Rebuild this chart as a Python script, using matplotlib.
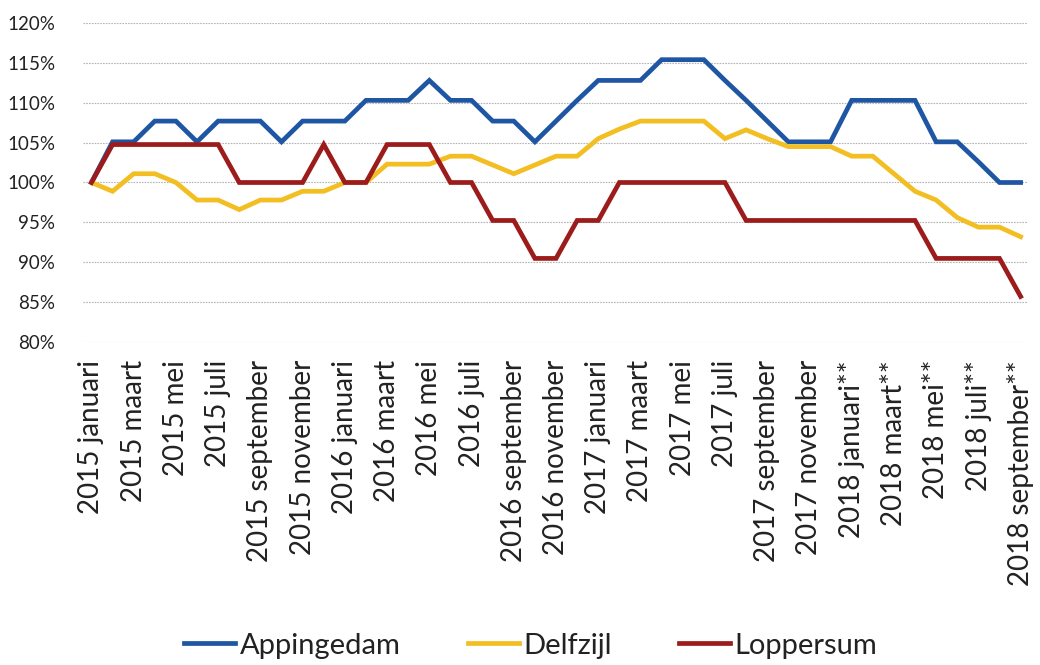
import matplotlib
matplotlib.use("Agg")
import matplotlib.pyplot as plt
import matplotlib.ticker as ticker
import numpy as np

plt.rcParams.update({
    "font.family": ["Lato", "DejaVu Sans"],
    "axes.spines.top": False,
    "axes.spines.right": False,
    "axes.spines.left": False,
    "axes.spines.bottom": False,
})

# ── Data (index, 2015 januari = 100%) ─────────────────────────────────────────
MONTHS = ["januari", "februari", "maart", "april", "mei", "juni", "juli",
          "augustus", "september", "oktober", "november", "december"]
PERIODS = [f"{2015 + i // 12} {MONTHS[i % 12]}" + ("**" if i >= 36 else "")
           for i in range(45)]

APPINGEDAM = [100, 105.1, 105.1, 107.7, 107.7, 105.1, 107.7, 107.7, 107.7,
              105.1, 107.7, 107.7, 107.7, 110.3, 110.3, 110.3, 112.8, 110.3,
              110.3, 107.7, 107.7, 105.1, 107.7, 110.3, 112.8, 112.8, 112.8,
              115.4, 115.4, 115.4, 112.8, 110.3, 107.7, 105.1, 105.1, 105.1,
              110.3, 110.3, 110.3, 110.3, 105.1, 105.1, 102.6, 100, 100]
DELFZIJL = [100, 98.9, 101.1, 101.1, 100, 97.8, 97.8, 96.6, 97.8, 97.8,
            98.9, 98.9, 100, 100, 102.3, 102.3, 102.3, 103.3, 103.3, 102.2,
            101.1, 102.2, 103.3, 103.3, 105.5, 106.7, 107.7, 107.7, 107.7,
            107.7, 105.5, 106.6, 105.5, 104.5, 104.5, 104.5, 103.3, 103.3,
            101.1, 98.9, 97.8, 95.6, 94.4, 94.4, 93.2]
LOPPERSUM = [100, 104.76, 104.76, 104.76, 104.76, 104.76, 104.76, 100, 100,
             100, 100, 104.76, 100, 100, 104.76, 104.76, 104.76, 100, 100,
             95.24, 95.24, 90.48, 90.48, 95.24, 95.24, 100, 100, 100, 100,
             100, 100, 95.24, 95.24, 95.24, 95.24, 95.24, 95.24, 95.24, 95.24,
             95.24, 90.48, 90.48, 90.48, 90.48, 85.71]

SERIES = [("Appingedam", APPINGEDAM, "#1f56a3"),
          ("Delfzijl", DELFZIJL, "#f2be22"),
          ("Loppersum", LOPPERSUM, "#9c1c1c")]

# ── Figure ────────────────────────────────────────────────────────────────────
fig = plt.figure(figsize=(10.4, 6.65), dpi=100)
ax = fig.add_axes([83 / 1040, 1 - 342 / 665, (1028 - 83) / 1040, (342 - 23) / 665])

x = np.arange(len(PERIODS))
for name, vals, color in SERIES:
    ax.plot(x, vals, color=color, lw=3.4, solid_joinstyle="miter", label=name)

ax.set_ylim(80, 120)
ax.yaxis.set_major_locator(ticker.MultipleLocator(5))
ax.yaxis.set_major_formatter(ticker.FuncFormatter(lambda v, _: f"{v:.0f}%"))
ax.set_xlim(-0.4, 44.35)
ax.set_xticks(x[::2])
ax.set_xticklabels(PERIODS[::2], rotation=90, va="top", ha="center")

ax.grid(axis="y", color="#b5b5b5", lw=0.8, ls=(0, (1.5, 1)))
ax.set_axisbelow(True)
ax.tick_params(axis="both", length=0, colors="#222222")
ax.tick_params(axis="y", pad=20, labelsize=13.5)
ax.tick_params(axis="x", pad=13, labelsize=20)

fig.legend(loc="lower center", bbox_to_anchor=(0.51, -0.03), ncol=3,
           frameon=False, fontsize=21, handlelength=1.75, handletextpad=0.15,
           columnspacing=2.3, labelcolor="#222222")

fig.savefig("out.png", dpi=100)
